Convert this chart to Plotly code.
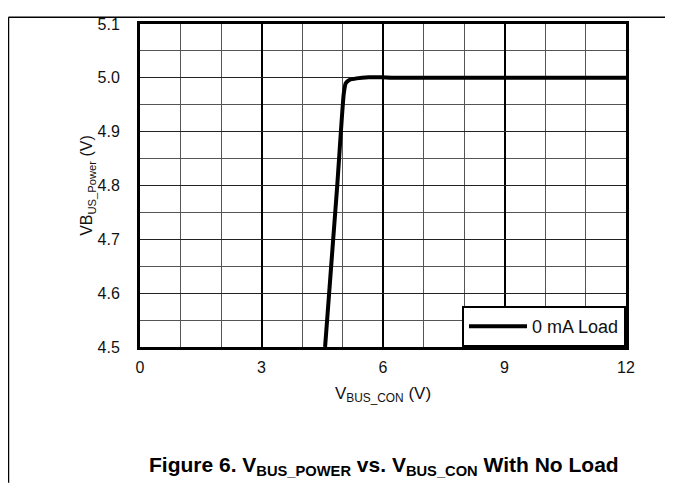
import plotly.graph_objects as go

# Data
v_bus_con = [4.57, 4.67, 4.77, 4.87, 4.96, 5.03, 5.08, 5.17, 5.35, 5.65, 5.95, 6.3, 12.0]
v_bus_power = [4.5, 4.6, 4.7, 4.8, 4.9, 4.97, 4.99, 4.996, 4.999, 5.001, 5.001, 5.0, 5.0]
series_name = "0 mA Load"
x_ticks = [0, 3, 6, 9, 12]
y_ticks = [4.5, 4.6, 4.7, 4.8, 4.9, 5.0, 5.1]
y_tick_text = ["4.5", "4.6", "4.7", "4.8", "4.9", "5.0", "5.1"]

FONT = "Liberation Sans, Arial, sans-serif"

fig = go.Figure()
fig.add_trace(go.Scatter(
    x=v_bus_con, y=v_bus_power, mode="lines", name=series_name,
    line=dict(color="black", width=4, shape="spline", smoothing=0.5),
    showlegend=True,
))

fig.update_layout(
    width=657, height=476,
    margin=dict(l=132, r=39, t=8, b=137),
    paper_bgcolor="white", plot_bgcolor="white",
    font=dict(family=FONT, size=16, color="#111"),
    showlegend=True,
    legend=dict(
        x=1, y=0, xanchor="right", yanchor="bottom",
        bgcolor="white", bordercolor="black", borderwidth=2,
        font=dict(family=FONT, size=18, color="#111"),
        itemwidth=58,
    ),
    xaxis=dict(
        range=[0, 12], tickvals=x_ticks, ticks="",
        showgrid=True, gridcolor="black", gridwidth=2,
        minor=dict(dtick=1, showgrid=True, gridcolor="#555", gridwidth=1),
        showline=True, linecolor="black", linewidth=3, mirror=True,
        zeroline=False, tickfont=dict(size=16, color="#111"),
        ticklabelstandoff=4,
        title=dict(text="V<sub>BUS_CON</sub> (V)", font=dict(size=17, color="#111"), standoff=12),
    ),
    yaxis=dict(
        range=[4.5, 5.1], tickvals=y_ticks, ticktext=y_tick_text, ticks="",
        showgrid=True, gridcolor="#222", gridwidth=1,
        minor=dict(dtick=0.05, showgrid=True, gridcolor="#555", gridwidth=1),
        showline=True, linecolor="black", linewidth=3, mirror=True,
        zeroline=False, tickfont=dict(size=16, color="#111"),
        ticklabelstandoff=14,
        title=dict(text="VB<sub>US_Power</sub> (V)", font=dict(size=16, color="#111"), standoff=1),
    ),
    shapes=[
        dict(type="line", xref="paper", yref="paper", x0=-0.2706, x1=1.2, y0=1.0211, y1=1.0211,
             line=dict(color="black", width=1.5)),
        dict(type="line", xref="paper", yref="paper", x0=-0.2706, x1=-0.2706, y0=1.0211, y1=-0.42,
             line=dict(color="black", width=1.5)),
    ],
    annotations=[
        dict(text="<b>Figure 6. V<sub>BUS_POWER</sub> vs. V<sub>BUS_CON</sub> With No Load</b>",
             xref="paper", yref="paper", x=0.502, y=-0.368, xanchor="center", yanchor="middle",
             showarrow=False, font=dict(family=FONT, size=21, color="black")),
    ],
)

fig.write_html("out.html")
